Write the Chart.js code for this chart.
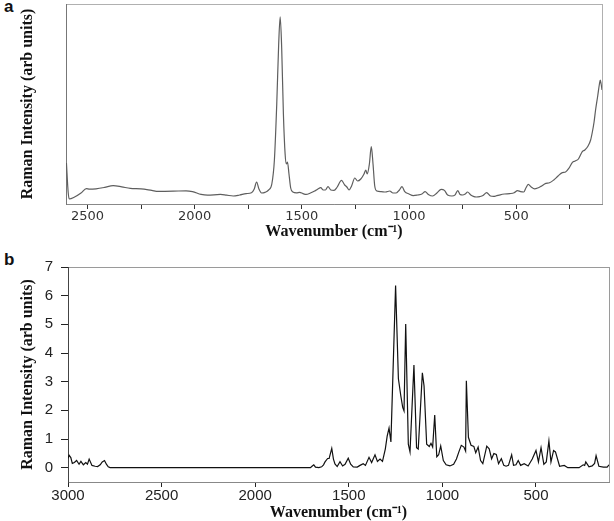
<!DOCTYPE html>
<html>
<head>
<meta charset="utf-8">
<script src="https://cdn.jsdelivr.net/npm/chart.js@4.4.1/dist/chart.umd.min.js"></script>
<style>
  html, body { margin: 0; padding: 0; background: #fff; }
  #page { position: relative; width: 614px; height: 521px; overflow: hidden; }
  .panel { position: absolute; left: 0; }
  .tag { position: absolute; left: 4px; font: bold 17px "Liberation Sans", Arial, sans-serif; color: #111; }
</style>
</head>
<body>
<div id="page">
  <div class="tag" style="top:-3px">a</div>
  <div class="tag" style="top:250px">b</div>
  <canvas id="chart-a" class="panel" style="top:0" width="614" height="248"></canvas>
  <canvas id="chart-b" class="panel" style="top:250px" width="614" height="271"></canvas>
</div>
<script>
// Panel a: espectro Raman (intensidad relativa, sin escala en y)
const waveA = [2598, 2590, 2585, 2560, 2530, 2505, 2490, 2460, 2420, 2380, 2340, 2300, 2250, 2200, 2170, 2100,
  2040, 2010, 1970, 1940, 1880, 1850, 1820, 1790, 1760, 1735, 1722, 1711, 1700, 1688, 1672, 1655, 1640, 1628,
  1617, 1608, 1601, 1594, 1586, 1578, 1572, 1567, 1560, 1552, 1542, 1525, 1510, 1495, 1480, 1460, 1440, 1425,
  1412, 1400, 1390, 1378, 1365, 1350, 1335, 1315, 1300, 1290, 1280, 1268, 1253, 1240, 1225, 1210, 1202, 1195,
  1185, 1176, 1168, 1160, 1150, 1130, 1110, 1090, 1075, 1060, 1045, 1033, 1020, 1000, 980, 960, 940, 925, 910,
  890, 870, 850, 835, 820, 800, 785, 773, 762, 750, 738, 727, 712, 700, 686, 670, 655, 638, 620, 605, 595, 575,
  555, 530, 510, 494, 480, 465, 455, 444, 430, 415, 400, 385, 362, 345, 325, 305, 285, 270, 255, 238, 225, 210,
  192, 180, 165, 153, 145, 137, 130, 120, 112, 108, 104, 100];
const intensityA = [20.5, 6, 2.5, 3.5, 5.5, 7.7, 7.4, 7.6, 8.3, 9.2, 8.6, 7.8, 7.6, 6.8, 6.3, 6.4,
  6.6, 6.2, 4.8, 4.4, 4.8, 4.4, 4.0, 4.5, 5.2, 5.6, 7.5, 11, 7.5, 5.5, 5.8, 7.0, 10, 22,
  50, 80, 93.6, 78, 45, 25, 20, 21, 15, 8, 6, 5.6, 5.8, 5.2, 4.8, 5.5, 6.5, 7.5,
  8.2, 7, 7, 8.7, 7.0, 6.8, 8.5, 11.8, 9.5, 8.5, 7, 9, 13, 11.5, 12.5, 15, 17, 15,
  20, 28.7, 20, 9, 6.5, 6.2, 6.0, 6.5, 5.5, 5.5, 7, 8.7, 6.2, 5, 4.2, 4.5, 5, 6.2, 4.8,
  4.0, 5.5, 7.3, 6.8, 4.5, 4.0, 4.6, 6.7, 4.8, 4.5, 5.0, 6.0, 4.5, 3.8, 3.5, 3.7, 4.2, 5.7, 4.0, 3.8, 4.0, 4.6,
  5.0, 5.2, 5.6, 6.7, 6.2, 6.0, 8, 9.8, 8.5, 7.6, 8.0, 8.8, 10.3, 10.6, 12, 14, 15.7, 16, 17.8, 20.8, 21.5, 22.5,
  26.2, 27, 29, 32, 36, 41, 47, 54, 60, 62, 60, 57];
const xTicksA = [2500, 2250, 2000, 1750, 1500, 1250, 1000, 750, 500, 250];

// Panel b: espectro calculado (arb units)
const waveB = [3000, 2994, 2985, 2977, 2966, 2954, 2941, 2931, 2918, 2905, 2896, 2887, 2872, 2855, 2842, 2828,
  2817, 2805, 2795, 2785, 2775, 2500, 2000, 1705, 1695, 1687, 1678, 1660, 1645, 1635, 1627, 1613, 1605, 1591,
  1582, 1574, 1562, 1547, 1533, 1520, 1503, 1490, 1476, 1455, 1440, 1423, 1411, 1392, 1378, 1360, 1347, 1333,
  1320, 1305, 1295, 1285, 1275, 1250, 1235, 1222, 1212, 1205, 1196, 1182, 1173, 1152, 1138, 1129, 1107, 1098,
  1084, 1070, 1061, 1052, 1041, 1030, 1020, 1009, 995, 980, 960, 940, 925, 912, 899, 885, 876, 872, 861, 847,
  832, 822, 809, 796, 784, 763, 750, 737, 725, 712, 700, 685, 672, 660, 647, 630, 620, 607, 595, 582, 563, 542,
  520, 500, 487, 473, 458, 445, 431, 420, 406, 396, 374, 349, 330, 270, 248, 240, 234, 217, 200, 187, 179, 164,
  140, 120, 110];
const intensityB = [0.33, 0.43, 0.35, 0.15, 0.18, 0.25, 0.12, 0.22, 0.1, 0.18, 0.12, 0.3, 0.08, 0.05, 0.04, 0.1,
  0.2, 0.25, 0.12, 0.03, 0, 0, 0, 0, 0.06, 0.1, 0.02, 0, 0.03, 0.1, 0.2, 0.32, 0.32, 0.67,
  0.3, 0.13, 0.04, 0.21, 0.06, 0.12, 0.33, 0.12, 0.03, 0.02, 0.08, 0.14, 0.08, 0.36, 0.18, 0.45, 0.22, 0.3,
  0.22, 0.65, 1.1, 1.38, 0.9, 6.35, 3.1, 2.5, 2.1, 1.98, 5.01, 0.82, 0.55, 3.58, 0.7, 0.65, 3.31, 2.85,
  0.82, 0.74, 0.85, 0.72, 1.84, 0.38, 0.45, 0.76, 0.25, 0.1, 0.06, 0.12, 0.3, 0.55, 0.78, 0.72, 0.58, 3.03, 1.06, 0.78,
  0.74, 0.52, 0.72, 0.25, 0.14, 0.75, 0.66, 0.31, 0.49, 0.46, 0.14, 0.31, 0.08, 0.05, 0.08, 0.45, 0.08, 0.1, 0.25, 0.08, 0.14, 0.06,
  0.3, 0.6, 0.2, 0.7, 0.12, 0.2, 0.93, 0.2, 0.6, 0.55, 0.05, 0.08, 0, 0, 0.1, 0.08, 0.2, 0.03, 0.06, 0.15, 0.42, 0.05,
  0.02, 0.02, 0.1];
const xTicksB = [3000, 2500, 2000, 1500, 1000, 500];
const yTicksB = [0, 1, 2, 3, 4, 5, 6, 7];

const SERIF = '"Liberation Serif", "Times New Roman", serif';
const SANS = '"Liberation Sans", Arial, sans-serif';

// marco gris alrededor del área de trazado (los ejes se dibujan encima)
const framePlugin = {
  id: 'frame',
  beforeDraw(chart, args, opts) {
    const { ctx, chartArea: a } = chart;
    ctx.save();
    ctx.strokeStyle = opts.color || '#aaa';
    ctx.lineWidth = 1;
    ctx.strokeRect(a.left + 0.5, a.top + 0.5, a.right - a.left, a.bottom - a.top);
    ctx.restore();
  },
};

function toPoints(xs, ys) {
  return xs.map((x, i) => ({ x, y: ys[i] }));
}

function fixedTicks(values) {
  return (scale) => {
    scale.ticks = values.map((v) => ({ value: v }));
  };
}

const axisTitle = (text, padding) => ({
  display: true,
  text,
  color: '#111',
  font: { family: SERIF, size: 16, weight: 'bold', lineHeight: 1 },
  padding,
});

new Chart(document.getElementById('chart-a'), {
  type: 'line',
  data: {
    datasets: [{
      data: toPoints(waveA, intensityA),
      borderColor: '#5e5e5e',
      borderWidth: 1.2,
      pointRadius: 0,
      tension: 0.4,
      cubicInterpolationMode: 'monotone',
    }],
  },
  options: {
    responsive: false,
    animation: false,
    events: [],
    devicePixelRatio: 1,
    layout: { padding: { top: 4, right: 12, left: 0, bottom: 0 } },
    plugins: { legend: { display: false }, tooltip: { enabled: false }, frame: { color: '#b0b0b0' } },
    scales: {
      x: {
        type: 'linear',
        reverse: true,
        min: 100,
        max: 2600,
        afterBuildTicks: fixedTicks(xTicksA),
        afterFit: (s) => { s.height = 44; },
        grid: { drawOnChartArea: false, drawTicks: true, tickLength: 5, color: '#333' },
        border: { color: '#888', width: 1 },
        ticks: {
          autoSkip: false,
          maxRotation: 0,
          padding: 0,
          color: '#333',
          font: { family: '"DejaVu Sans", sans-serif', size: 13 },
          callback: (v) => (v % 500 === 0 ? String(v) : ''),
        },
        title: axisTitle('Wavenumber (cm⁻¹)', { top: 0, bottom: 8 }),
      },
      y: {
        min: 0,
        max: 100,
        afterFit: (s) => { s.width = 66; },
        grid: { display: false },
        border: { color: '#777', width: 1 },
        ticks: { display: false },
        title: axisTitle('Raman Intensity (arb units)', { top: 20, bottom: 0 }),
      },
    },
  },
  plugins: [framePlugin],
});

new Chart(document.getElementById('chart-b'), {
  type: 'line',
  data: {
    datasets: [{
      data: toPoints(waveB, intensityB),
      borderColor: '#111',
      borderWidth: 1.2,
      pointRadius: 0,
      tension: 0,
    }],
  },
  options: {
    responsive: false,
    animation: false,
    events: [],
    devicePixelRatio: 1,
    layout: { padding: { top: 16, right: 5, left: 0, bottom: 0 } },
    plugins: { legend: { display: false }, tooltip: { enabled: false }, frame: { color: '#9a9a9a' } },
    scales: {
      x: {
        type: 'linear',
        reverse: true,
        min: 110,
        max: 3000,
        afterBuildTicks: fixedTicks(xTicksB),
        afterFit: (s) => { s.height = 39; },
        grid: { drawOnChartArea: false, drawTicks: true, tickLength: 5, color: '#222' },
        border: { color: '#888', width: 1 },
        ticks: {
          autoSkip: false,
          maxRotation: 0,
          padding: 0,
          color: '#222',
          font: { family: SANS, size: 15 },
          callback: (v) => String(v),
        },
        title: axisTitle('Wavenumber (cm⁻¹)', { top: 0, bottom: 0 }),
      },
      y: {
        min: -0.5,
        max: 7,
        afterBuildTicks: fixedTicks(yTicksB),
        afterFit: (s) => { s.width = 68; },
        grid: { drawOnChartArea: false, drawTicks: true, tickLength: 7, color: '#222' },
        border: { color: '#444', width: 1 },
        ticks: {
          autoSkip: false,
          padding: 8,
          color: '#222',
          font: { family: SANS, size: 15 },
          callback: (v) => String(v),
        },
        title: axisTitle('Raman Intensity (arb units)', { top: 20, bottom: 0 }),
      },
    },
  },
  plugins: [framePlugin],
});
</script>
</body>
</html>
